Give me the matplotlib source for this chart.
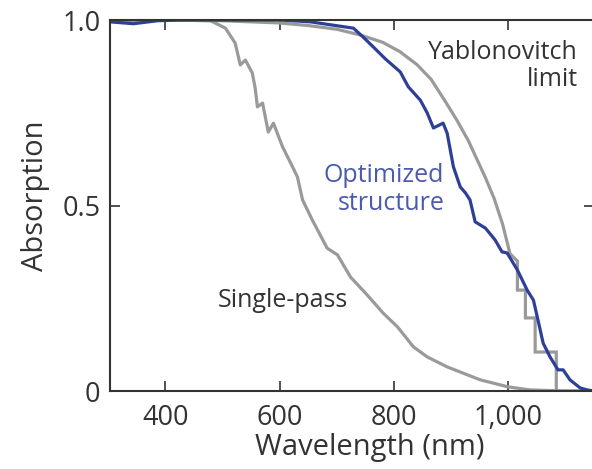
import matplotlib.pyplot as plt

plt.rcParams['font.family'] = ['Open Sans', 'DejaVu Sans']

# single-pass absorption
sp_wl = [303, 400, 479, 505, 522, 531, 540, 552, 557, 561, 570, 580, 589, 605, 619,
         631, 640, 657, 683, 701, 724, 753, 781, 806, 834, 858, 893, 951, 1000,
         1038, 1100, 1150]
sp_abs = [0.997, 1.0, 0.998, 0.978, 0.938, 0.879, 0.892, 0.857, 0.817, 0.766, 0.776,
          0.698, 0.722, 0.658, 0.615, 0.577, 0.515, 0.461, 0.385, 0.367, 0.307,
          0.259, 0.210, 0.173, 0.119, 0.092, 0.065, 0.030, 0.011, 0.003, 0.0, 0.0]

# Yablonovitch limit (smooth top, staircase at the band edge)
yab_wl = [303, 400, 500, 600, 650, 700, 740, 780, 810, 840, 865, 890, 910, 930,
          945, 960, 975, 990, 1003, 1016, 1016, 1030, 1030, 1047, 1047, 1084, 1084,
          1150]
yab_abs = [1.0, 1.0, 0.998, 0.992, 0.985, 0.975, 0.96, 0.94, 0.915, 0.88, 0.84, 0.78,
           0.73, 0.675, 0.625, 0.575, 0.52, 0.45, 0.37, 0.35, 0.272, 0.272, 0.197,
           0.197, 0.105, 0.105, 0.0, 0.0]

# optimized structure
opt_wl = [303, 344, 386, 426, 601, 654, 729, 746, 764, 785, 811, 825, 846, 858, 869,
          886, 893, 904, 916, 925, 933, 942, 960, 977, 989, 998, 1016, 1033, 1044,
          1052, 1061, 1073, 1087, 1096, 1108, 1126, 1138, 1150]
opt_abs = [0.995, 0.99, 0.998, 1.0, 1.0, 0.995, 0.978, 0.954, 0.927, 0.895, 0.86,
           0.82, 0.784, 0.75, 0.709, 0.722, 0.695, 0.604, 0.55, 0.534, 0.515, 0.456,
           0.439, 0.407, 0.375, 0.372, 0.326, 0.272, 0.245, 0.191, 0.129, 0.092,
           0.057, 0.057, 0.03, 0.008, 0.003, 0.0]

gray = '#9a9a9a'
blue = '#2e3f98'
txt = '#333333'

fig = plt.figure(figsize=(5.92, 4.69), dpi=100)
ax = fig.add_axes([110 / 592, 1 - 391 / 469, 484 / 592, 371 / 469])

ax.plot(sp_wl, sp_abs, color=gray, lw=2.3, solid_joinstyle='round')
ax.plot(yab_wl, yab_abs, color=gray, lw=2.3, solid_joinstyle='miter')
ax.plot(opt_wl, opt_abs, color=blue, lw=2.3, solid_joinstyle='round')

ax.set_xlim(303, 1150)
ax.set_ylim(0, 1.0)
ax.set_xticks([400, 600, 800, 1000])
ax.set_xticklabels(['400', '600', '800', '1,000'])
ax.set_yticks([0, 0.5, 1.0])
ax.set_yticklabels(['0', '0.5', '1.0'])

ax.tick_params(direction='in', length=7, width=1.2, color=txt, labelcolor=txt,
               labelsize=19.5, top=True, right=True)
ax.tick_params(axis='x', pad=9)
ax.tick_params(axis='y', pad=7)
for s in ax.spines.values():
    s.set_color(txt)
    s.set_linewidth(1.5)
ax.spines['right'].set_visible(False)

ax.set_xlabel('Wavelength (nm)', fontsize=21, color=txt)
ax.set_ylabel('Absorption', fontsize=21, color=txt)
ax.xaxis.set_label_coords(0.537, -0.112)
ax.yaxis.set_label_coords(-0.125, 0.527)

ax.text(1122, 0.876, 'Yablonovitch\nlimit', ha='right', va='center', fontsize=18,
        color=txt, linespacing=1.15)
ax.text(888, 0.542, 'Optimized\nstructure', ha='right', va='center', fontsize=18,
        color='#4a5aae', linespacing=1.15)
ax.text(606, 0.245, 'Single-pass', ha='center', va='center', fontsize=18, color=txt)

fig.savefig('out.png', dpi=100)
